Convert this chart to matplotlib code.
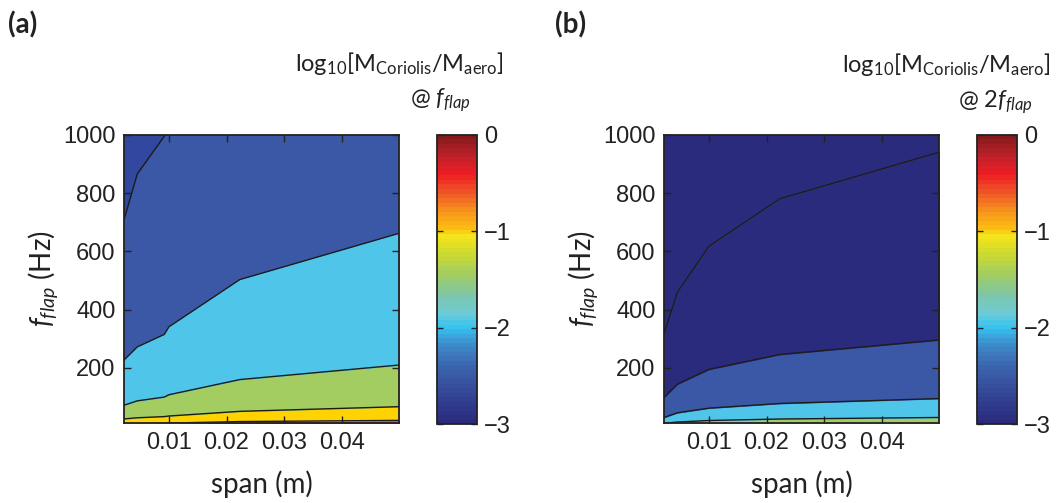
import numpy as np
import matplotlib
matplotlib.use('Agg')
import matplotlib.pyplot as plt
from matplotlib.colors import LinearSegmentedColormap, Normalize
from matplotlib.cm import ScalarMappable

plt.rcParams['font.family'] = ['Liberation Sans', 'DejaVu Sans']
plt.rcParams['mathtext.fontset'] = 'custom'
plt.rcParams['mathtext.rm'] = 'Lato'
plt.rcParams['mathtext.it'] = 'Lato:italic'
plt.rcParams['axes.unicode_minus'] = True

LABEL_FONT = ['Lato', 'DejaVu Sans']

# wing span nodes (m)
span = [0.0022, 0.0045, 0.0092, 0.0100, 0.0223, 0.0500]

# (a) flap frequency (Hz) at which log10 ratio crosses each contour level
a_lev_05 = [7, 8.6, 10, 10.8, 16, 20]        # -0.5
a_lev_10 = [25, 29, 33, 35, 51, 67]          # -1.0
a_lev_15 = [72, 87, 100, 108, 160, 210]      # -1.5
a_lev_20 = [227, 272, 315, 341, 503, 662]    # -2.0
a_lev_25 = [708, 865, 995, 1080, 1590, 2100] # -2.5
a_colors = ['#e2352b', '#ffd203', '#a3cd60', '#4fc6e9', '#3a58a6', '#3247a0']

# (b) same, response at twice the flap frequency
b_lev_15 = [10, 14.4, 18.8, 19.6, 24.7, 30]  # -1.5
b_lev_20 = [30, 46, 59.7, 62, 78, 95]        # -2.0
b_lev_25 = [99, 144, 187.6, 195, 246, 296]   # -2.5
b_lev_30 = [315, 458, 594, 617, 780, 940]    # -3.0
b_colors = ['#a3cd60', '#4fc6e9', '#3a58a6', '#2a2b7c', '#2a2b7c']

cbar_ticks = [0, -1, -2, -3]
cbar_labels = ['0', '\u22121', '\u22122', '\u22123']
x_ticks = [0.01, 0.02, 0.03, 0.04]
x_ticklabels = ['0.01', '0.02', '0.03', '0.04']
y_ticks = [200, 400, 600, 800, 1000]

cmap = LinearSegmentedColormap.from_list('coriolis', [
    (0.00, '#2a2a7b'), (0.07, '#313d90'), (0.13, '#37509d'),
    (0.19, '#3b62ac'), (0.25, '#3d7fc0'), (0.29, '#3c9ad5'),
    (0.33, '#33c3f0'), (0.38, '#6ccbd8'), (0.45, '#80c6a5'),
    (0.52, '#a3cd5e'), (0.60, '#d3dd2b'), (0.655, '#f7e51c'),
    (0.675, '#fdc010'), (0.74, '#f7941d'), (0.80, '#f05a28'),
    (0.87, '#ed1c24'), (0.93, '#c0212a'), (1.00, '#861a1c')], N=64)

W, H = 1058, 503
fig = plt.figure(figsize=(W / 100, H / 100), dpi=100)


def box(x0, y0, x1, y1):
    return [x0 / W, 1 - y1 / H, (x1 - x0) / W, (y1 - y0) / H]


def draw_panel(ax, bounds, colors):
    n = len(span)
    edges = [np.full(n, 1.0)] + [np.asarray(b, float) for b in bounds] + [np.full(n, 1e4)]
    for lo, hi, c in zip(edges[:-1], edges[1:], colors):
        ax.fill_between(span, lo, hi, color=c, lw=0.6, edgecolor=c)
    for b in bounds:
        ax.plot(span, b, color='#1c1c1c', lw=1.0)
    ax.set_xlim(0.0022, 0.05)
    ax.set_ylim(10, 1000)
    ax.set_xticks(x_ticks)
    ax.set_xticklabels(x_ticklabels)
    ax.set_yticks(y_ticks)
    ax.tick_params(direction='in', top=True, right=True, length=5, width=1,
                   labelsize=17, pad=6, colors='#222222', labelcolor='#222222')
    for s in ax.spines.values():
        s.set_linewidth(1.3)
        s.set_color('#222222')
    ax.set_xlabel('span (m)', fontsize=20, family=LABEL_FONT, color='#222222', labelpad=12)
    ax.set_ylabel(r'$\mathit{f}_{\mathit{flap}}$ (Hz)', fontsize=20, family=LABEL_FONT,
                  color='#222222', labelpad=2)


def draw_cbar(cax):
    sm = ScalarMappable(norm=Normalize(-3, 0), cmap=cmap)
    cb = fig.colorbar(sm, cax=cax, ticks=cbar_ticks)
    cb.ax.set_yticklabels(cbar_labels)
    cb.ax.tick_params(direction='in', left=True, right=True, length=4, width=1,
                      labelsize=17, pad=5, colors='#222222', labelcolor='#222222')
    cb.outline.set_linewidth(1.3)
    cb.outline.set_edgecolor('#222222')


ax_a = fig.add_axes(box(124, 134.7, 399.3, 423.3))
draw_panel(ax_a, [a_lev_05, a_lev_10, a_lev_15, a_lev_20, a_lev_25], a_colors)
draw_cbar(fig.add_axes(box(436.7, 134.7, 477.3, 424.3)))

ax_b = fig.add_axes(box(664, 134.7, 939.3, 423.3))
draw_panel(ax_b, [b_lev_15, b_lev_20, b_lev_25, b_lev_30], b_colors)
draw_cbar(fig.add_axes(box(976.7, 134.7, 1017.3, 424.3)))

title_1 = r'log$_{\mathregular{10}}$[M$_{\mathregular{Coriolis}}$/M$_{\mathregular{aero}}$]'
txt = dict(family=LABEL_FONT, color='#222222', va='baseline', ha='left')
fig.text(295 / W, 1 - 71 / H, title_1, fontsize=17, **txt)
fig.text(410 / W, 1 - 105 / H, r'@ $\mathit{f}_{\mathit{flap}}$', fontsize=17, **txt)
fig.text(842 / W, 1 - 72 / H, title_1, fontsize=17, **txt)
fig.text(958 / W, 1 - 107 / H, r'@ 2$\mathit{f}_{\mathit{flap}}$', fontsize=17, **txt)

fig.text(8 / W, 1 - 33 / H, '(a)', fontsize=20, weight='bold', **txt)
fig.text(555 / W, 1 - 33 / H, '(b)', fontsize=20, weight='bold', **txt)

fig.savefig('out.png', dpi=100)
